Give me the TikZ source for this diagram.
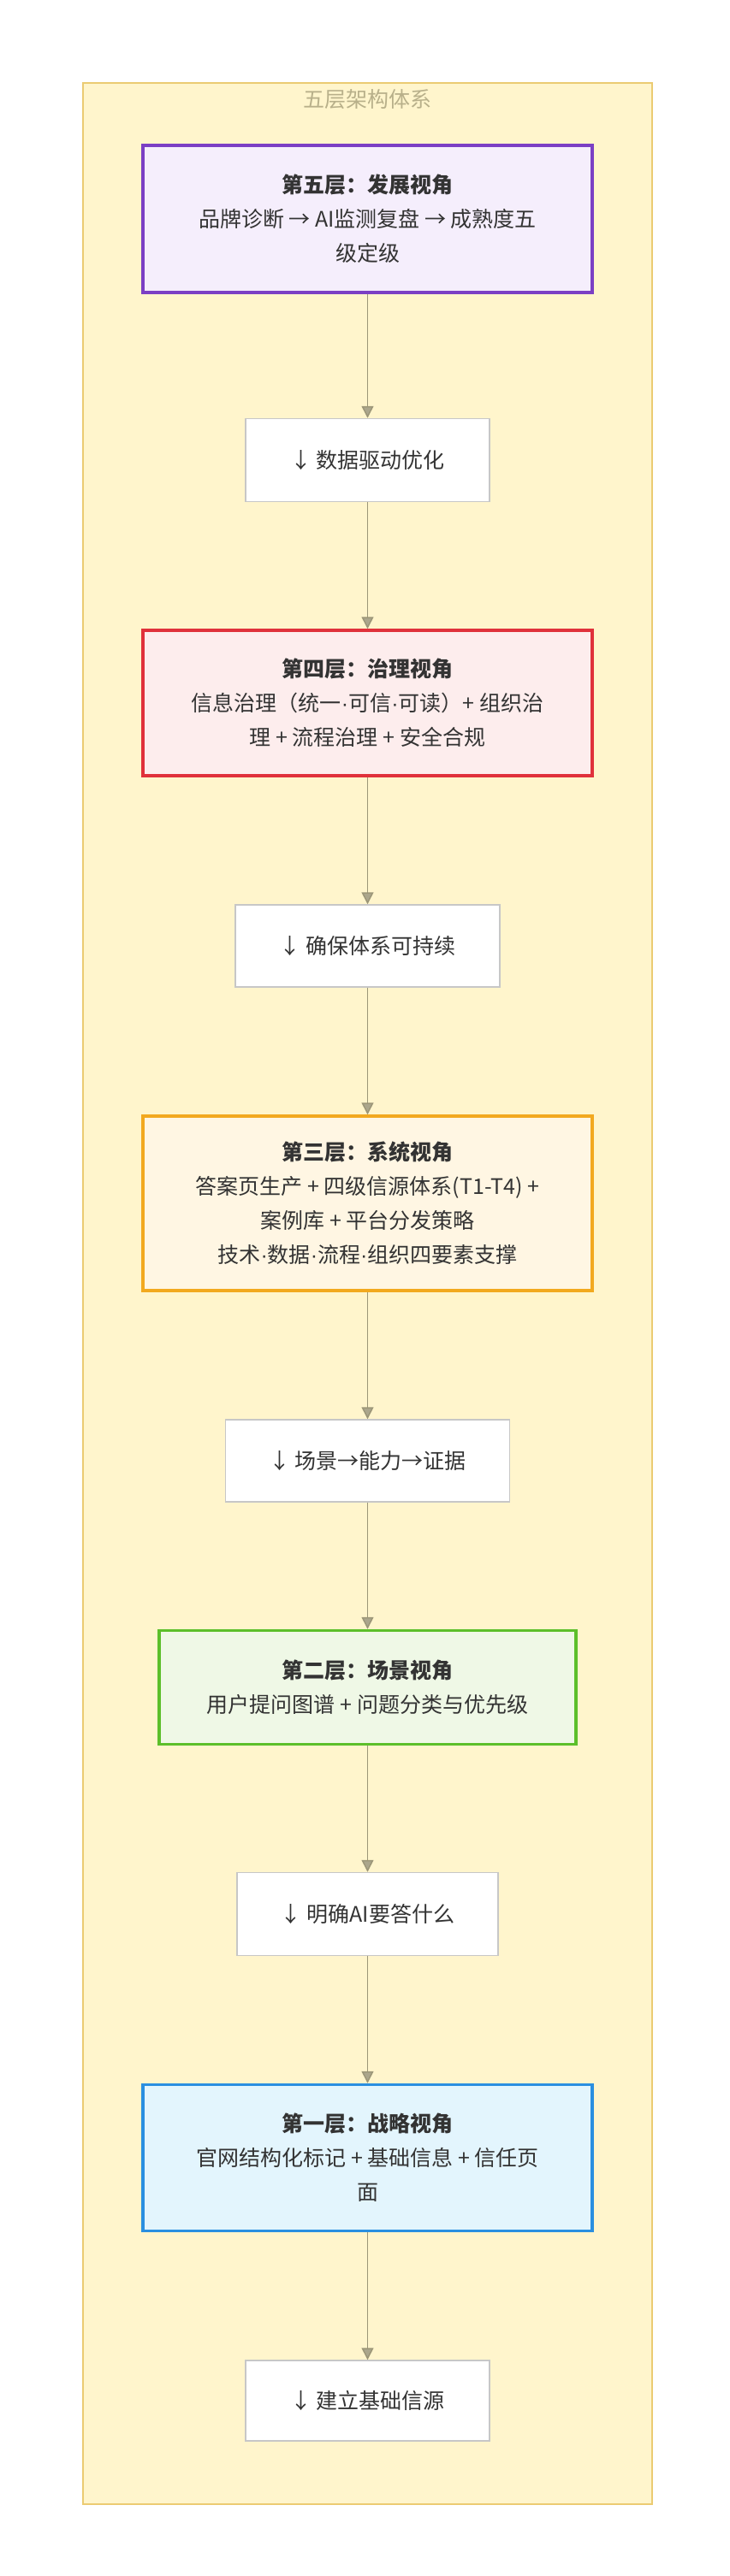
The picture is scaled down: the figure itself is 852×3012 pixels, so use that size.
\documentclass[tikz,border=0pt]{standalone}
\usepackage{fontspec}
\setmainfont{Noto Sans CJK SC}
\newfontfamily\latf{Liberation Sans}
\newcommand{\md}{{\latf ·}}
\usetikzlibrary{arrows.meta}
\definecolor{cont}{HTML}{FFF5CC}\definecolor{contb}{HTML}{EBCB72}
\definecolor{arr}{HTML}{9C9678}\definecolor{txt}{HTML}{333333}
\definecolor{ttl}{HTML}{B8B08A}
\tikzset{
 layer/.style={draw=#1!100, line width=3.5pt, minimum width=525pt, align=center, text=txt, font=\fontsize{25}{40}\selectfont},
 lbl/.style={draw=black!22, line width=1.5pt, fill=white, align=center, text=txt, font=\fontsize{25}{30}\selectfont},
 conn/.style={draw=arr, line width=1.5pt, -{Triangle[length=14pt,width=14pt,fill=arr!85]}}
}
\definecolor{pb}{HTML}{7B3FC4}\definecolor{pf}{HTML}{F5EEFC}
\definecolor{rb}{HTML}{E0313B}\definecolor{rf}{HTML}{FDEDED}
\definecolor{ob}{HTML}{F2A91F}\definecolor{of}{HTML}{FFF6E3}
\definecolor{gb}{HTML}{5CBF2A}\definecolor{gf}{HTML}{EFF8E6}
\definecolor{bb}{HTML}{2A8FE0}\definecolor{bf}{HTML}{E3F5FD}
\begin{document}
\begin{tikzpicture}[x=1pt,y=-1pt]
\useasboundingbox[fill=white] (0,0) rectangle (852,3012);
\draw[fill=cont, draw=contb, line width=1.5pt] (97,97) rectangle (762,2928);
\node[text=ttl, font=\fontsize{25}{28}\selectfont] (title) at (429.5,116) {五层架构体系};
\node[layer=pb, fill=pf, minimum height=172pt] (L5) at (429.5,256) {\textbf{第五层：发展视角}\\品牌诊断 → AI监测复盘 → 成熟度五\\级定级};
\node[lbl, minimum width=285pt, minimum height=97pt] (b5) at (429.5,538) {↓ 数据驱动优化};
\node[layer=rb, fill=rf, minimum height=170pt] (L4) at (429.5,822) {\textbf{第四层：治理视角}\\信息治理（统一\md 可信\md 可读）+ 组织治\\理 + 流程治理 + 安全合规};
\node[lbl, minimum width=309pt, minimum height=96pt] (b4) at (429.5,1106) {↓ 确保体系可持续};
\node[layer=ob, fill=of, minimum height=204pt] (L3) at (429.5,1407) {\textbf{第三层：系统视角}\\答案页生产 + 四级信源体系(T1-T4) +\\案例库 + 平台分发策略\\技术\md 数据\md 流程\md 组织四要素支撑};
\node[lbl, minimum width=332pt, minimum height=96pt] (b3) at (429.5,1708) {↓ 场景→能力→证据};
\node[layer=gb, fill=gf, minimum width=487pt, minimum height=133pt] (L2) at (429.5,1973) {\textbf{第二层：场景视角}\\用户提问图谱 + 问题分类与优先级};
\node[lbl, minimum width=305pt, minimum height=97pt] (b2) at (429.5,2238) {↓ 明确AI要答什么};
\node[layer=bb, fill=bf, minimum height=171pt] (L1) at (429.5,2523) {\textbf{第一层：战略视角}\\官网结构化标记 + 基础信息 + 信任页\\面};
\node[lbl, minimum width=285pt, minimum height=94pt] (b1) at (429.5,2807) {↓ 建立基础信源};
\draw[conn] (L5) -- (b5);
\draw[conn] (b5) -- (L4);
\draw[conn] (L4) -- (b4);
\draw[conn] (b4) -- (L3);
\draw[conn] (L3) -- (b3);
\draw[conn] (b3) -- (L2);
\draw[conn] (L2) -- (b2);
\draw[conn] (b2) -- (L1);
\draw[conn] (L1) -- (b1);
\end{tikzpicture}
\end{document}
